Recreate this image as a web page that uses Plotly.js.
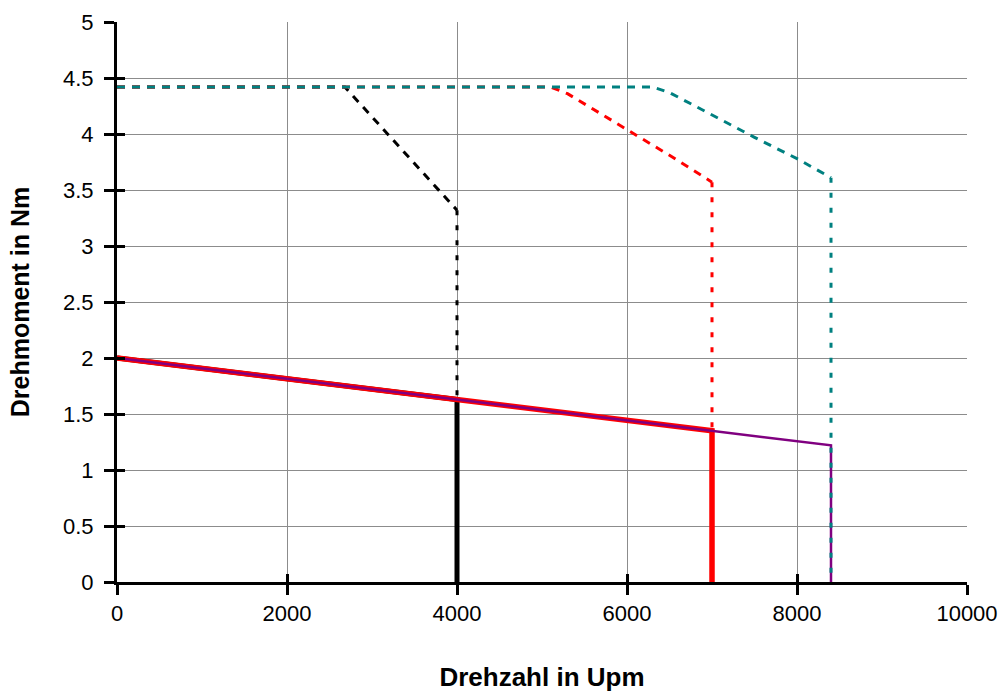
<!DOCTYPE html>
<html>
<head>
<meta charset="utf-8">
<script src="https://cdn.plot.ly/plotly-3.0.1.min.js"></script>
<style>html,body{margin:0;padding:0;background:#fff;}#chart{width:1007px;height:692px;}</style>
</head>
<body>
<div id="chart"></div>
<script>
// Max torque curves (dashed part + vertical dotted part)
const rpmMax4000 = [0, 2680, 4000];
const nmMax4000 = [4.42, 4.42, 3.32];
const rpmMax4000Drop = [4000, 4000];
const nmMax4000Drop = [3.32, 1.63];

const rpmMax7000 = [0, 5100, 5300, 6000, 6500, 7000];
const nmMax7000 = [4.42, 4.42, 4.36, 4.04, 3.81, 3.57];
const rpmMax7000Drop = [7000, 7000];
const nmMax7000Drop = [3.57, 1.35];

const rpmMax8400 = [0, 6300, 6500, 6700, 7000, 7500, 8000, 8400];
const nmMax8400 = [4.42, 4.42, 4.37, 4.29, 4.17, 3.97, 3.78, 3.61];
const rpmMax8400Drop = [8400, 8400];
const nmMax8400Drop = [3.61, 0];

// Continuous torque curves
const rpmCont4000 = [0, 4000, 4000];
const nmCont4000 = [2.0, 1.63, 0];
const rpmCont7000 = [0, 7000, 7000];
const nmCont7000 = [2.0, 1.35, 0];
const rpmCont8400 = [0, 8400, 8400];
const nmCont8400 = [2.0, 1.22, 0];

const xTicks = [0, 2000, 4000, 6000, 8000, 10000];
const yTicks = [0, 0.5, 1, 1.5, 2, 2.5, 3, 3.5, 4, 4.5, 5];
const yTickText = ['0', '0.5', '1', '1.5', '2', '2.5', '3', '3.5', '4', '4.5', '5'];

const BLACK = '#000000', RED = '#FF0000', TEAL = '#008080', PURPLE = '#800080';
const DASH = '8px,7px', DOT = '5px,10px';

function ln(x, y, color, width, dash) {
  return {x: x, y: y, type: 'scatter', mode: 'lines', hoverinfo: 'skip',
    line: {color: color, width: width, dash: dash || 'solid'}, showlegend: false};
}

const traces = [
  ln(rpmCont4000, nmCont4000, BLACK, 5),
  ln(rpmCont7000, nmCont7000, RED, 5.5),
  ln(rpmCont8400, nmCont8400, PURPLE, 2.5),
  ln(rpmMax4000, nmMax4000, BLACK, 3, DASH),
  ln(rpmMax4000Drop, nmMax4000Drop, BLACK, 3, DOT),
  ln(rpmMax7000, nmMax7000, RED, 3, DASH),
  ln(rpmMax7000Drop, nmMax7000Drop, RED, 3, DOT),
  ln(rpmMax8400, nmMax8400, TEAL, 3, DASH),
  ln(rpmMax8400Drop, nmMax8400Drop, TEAL, 3, DOT),
  {x: [null], y: [null], xaxis: 'x2', yaxis: 'y2', type: 'scatter', mode: 'lines', showlegend: false, hoverinfo: 'skip'}
];

const font = {family: 'Liberation Sans, Arial, sans-serif', size: 22, color: '#000'};
const xTitleFont = {family: 'Liberation Sans, Arial, sans-serif', size: 26, weight: 'bold', color: '#000'};
const yTitleFont = {family: 'Liberation Sans, Arial, sans-serif', size: 25, weight: 'bold', color: '#000'};

const layout = {
  width: 1007, height: 692,
  margin: {l: 117, r: 40, t: 22, b: 110},
  paper_bgcolor: '#fff', plot_bgcolor: '#fff',
  font: font,
  showlegend: false,
  xaxis: {
    range: [0, 10000], tickvals: xTicks, ticktext: xTicks.map(String),
    showgrid: true, gridcolor: '#8c8c8c', gridwidth: 1,
    zeroline: false, showline: true, linecolor: '#000', linewidth: 3,
    ticks: 'outside', ticklen: 10, tickwidth: 3, tickcolor: '#000',
    ticklabelstandoff: 0, tickfont: font,
    title: {text: 'Drehzahl in Upm', font: xTitleFont, standoff: 46},
    automargin: false, fixedrange: true
  },
  yaxis: {
    range: [0, 5], tickvals: yTicks, ticktext: yTickText,
    showgrid: true, gridcolor: '#8c8c8c', gridwidth: 1,
    zeroline: false, showline: true, linecolor: '#000', linewidth: 3,
    ticks: 'outside', ticklen: 10, tickwidth: 3, tickcolor: '#000',
    ticklabelstandoff: 6, tickfont: font,
    title: {text: 'Drehmoment in Nm', font: yTitleFont, standoff: 27},
    automargin: false, fixedrange: true
  },
  xaxis2: {
    overlaying: 'x', anchor: 'y2', side: 'bottom', range: [0, 10000], tickvals: xTicks,
    showticklabels: false, showgrid: false, zeroline: false, showline: false,
    ticks: 'inside', ticklen: 8, tickwidth: 3, tickcolor: '#000', fixedrange: true
  },
  yaxis2: {
    overlaying: 'y', anchor: 'x2', side: 'left', range: [0, 5], tickvals: yTicks,
    showticklabels: false, showgrid: false, zeroline: false, showline: false,
    ticks: 'inside', ticklen: 8, tickwidth: 3, tickcolor: '#000', fixedrange: true
  }
};

Plotly.newPlot('chart', traces, layout, {displayModeBar: false, staticPlot: true});
</script>
</body>
</html>
